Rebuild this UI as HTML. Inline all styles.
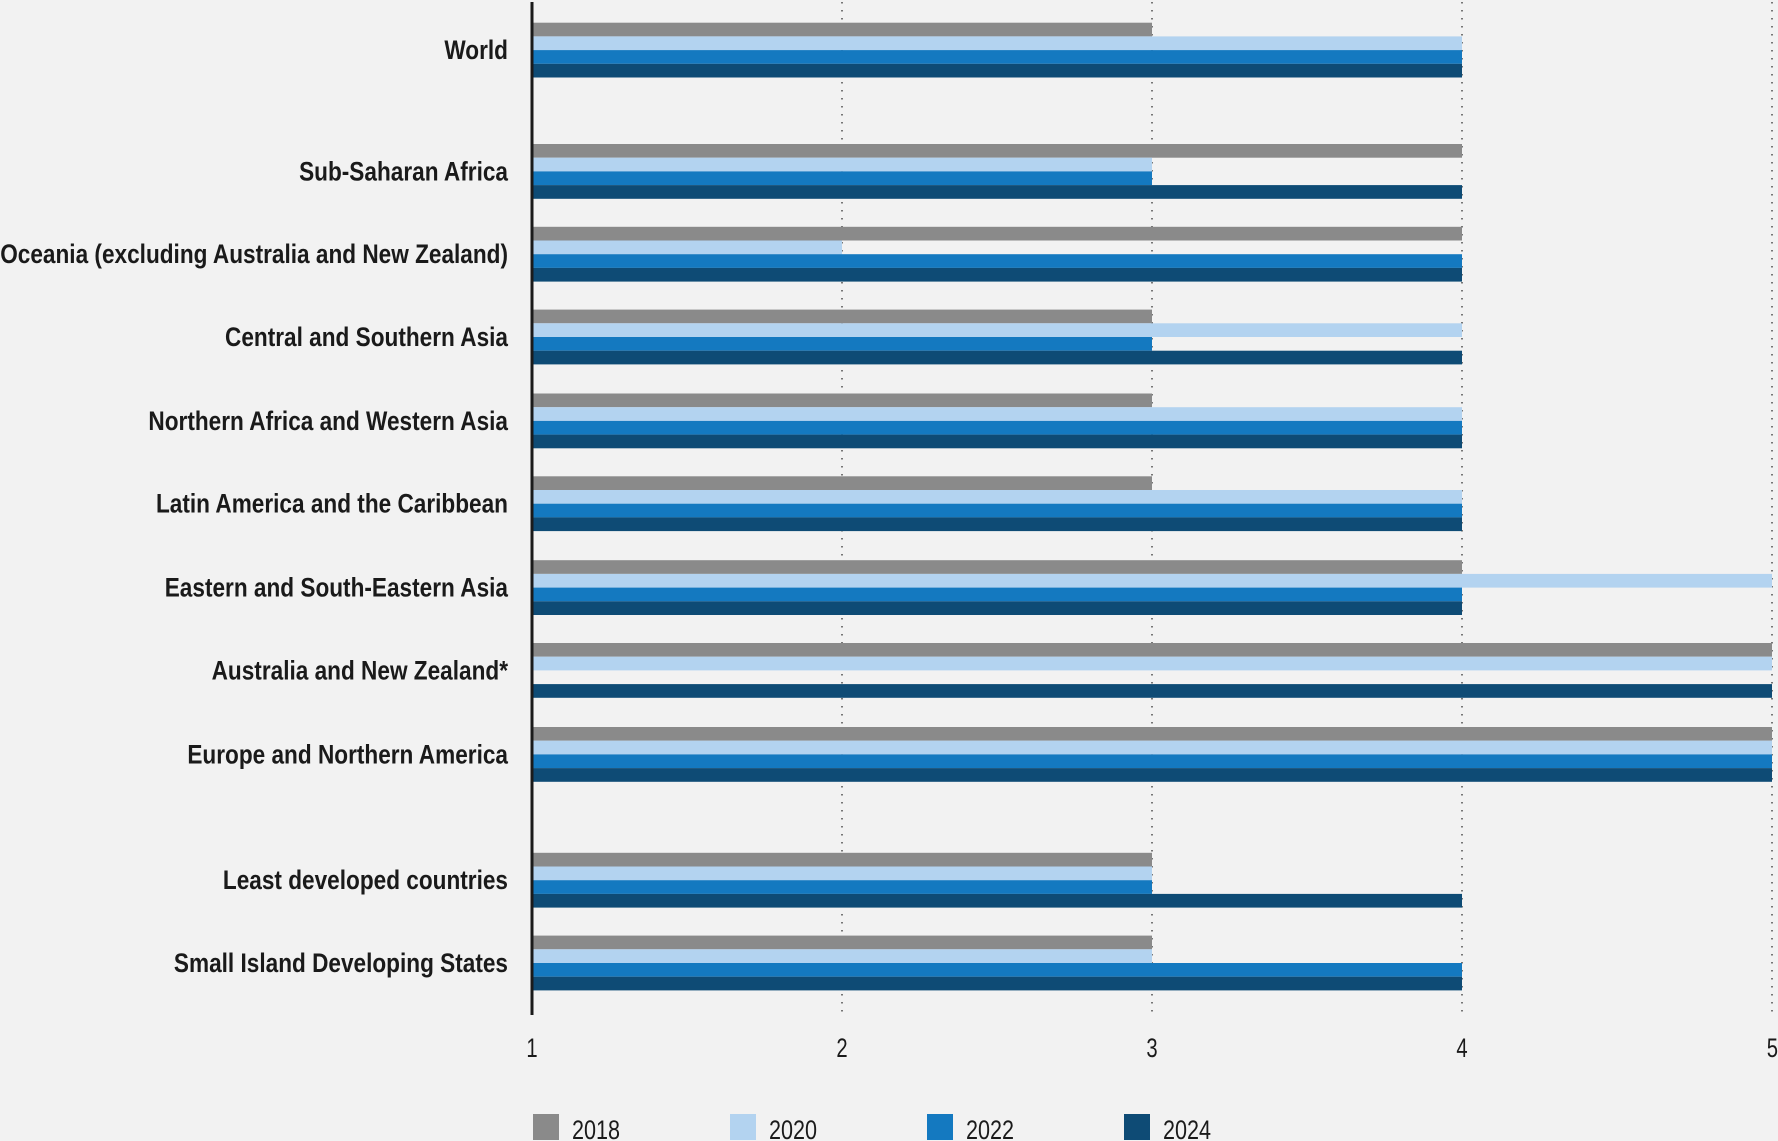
<!DOCTYPE html>
<html><head><meta charset="utf-8">
<style>
html,body{margin:0;padding:0;background:#f2f2f2;}
svg{display:block;}
.lbl{font-family:"Liberation Sans",sans-serif;font-weight:bold;font-size:27px;fill:#1a1a1a;}
.tick{font-family:"Liberation Sans",sans-serif;font-size:27px;fill:#1a1a1a;}
</style></head>
<body>
<svg id="chart" width="1778" height="1141" viewBox="0 0 1778 1141" xmlns="http://www.w3.org/2000/svg">
<rect width="1778" height="1141" fill="#f2f2f2"/>
<g id="grid"></g>
<g id="bars"></g>
<g id="labels"></g>
<g id="ticks"></g>
<line x1="532" y1="2" x2="532" y2="1015" stroke="#1a1a1a" stroke-width="3"/>
<g id="legend"></g>
</svg>
<script>
const categories = ["World","Sub-Saharan Africa","Oceania (excluding Australia and New Zealand)","Central and Southern Asia","Northern Africa and Western Asia","Latin America and the Caribbean","Eastern and South-Eastern Asia","Australia and New Zealand*","Europe and Northern America","Least developed countries","Small Island Developing States"];
const seriesNames = ["2018","2020","2022","2024"];
const s2018 = [3,4,4,3,3,3,4,5,5,3,3];
const s2020 = [4,3,2,4,4,4,5,5,5,3,3];
const s2022 = [4,3,4,3,4,4,4,null,5,3,4];
const s2024 = [4,4,4,4,4,4,4,5,5,4,4];
const tickValues = [1,2,3,4,5];

const series = [s2018,s2020,s2022,s2024];
const colors = ["#8a8a8a","#b3d3f0","#1479c0","#0e4b75"];
const groupTops = [22.7,144,226.8,309.6,393.5,476.3,560.2,643,727,852.8,935.6];
const barH = 13.7;
const NS = "http://www.w3.org/2000/svg";
const xMin = 1, xMax = 5, x0 = 532, x1 = 1772;
function xs(v){ return x0 + (v - xMin) / (xMax - xMin) * (x1 - x0); }

const grid = document.getElementById('grid');
tickValues.forEach(t => {
  if (t === xMin) return;
  const l = document.createElementNS(NS,'line');
  
  
  l.setAttribute('x1', xs(t)); l.setAttribute('x2', xs(t));
  l.setAttribute('y1', 2); l.setAttribute('y2', 1015);
  l.setAttribute('stroke', '#333'); l.setAttribute('stroke-width', '1.3');
  l.setAttribute('stroke-dasharray', '1.5 6.5');
  grid.appendChild(l);
});

const bars = document.getElementById('bars');
categories.forEach((c, i) => {
  series.forEach((s, j) => {
    const v = s[i];
    if (v === null || v === undefined) return;
    const r = document.createElementNS(NS,'rect');
    
    
    r.setAttribute('x', x0);
    r.setAttribute('y', groupTops[i] + j * barH);
    r.setAttribute('width', xs(v) - x0);
    r.setAttribute('height', barH);
    r.setAttribute('fill', colors[j]);
    bars.appendChild(r);
  });
});

const labels = document.getElementById('labels');
const texts = [];
categories.forEach((c, i) => {
  const t = document.createElementNS(NS,'text');
  
  
  t.setAttribute('class', 'lbl');
  t.setAttribute('text-anchor', 'end');
  t.setAttribute('y', groupTops[i] + 2 * barH + 9);
  t.textContent = c;
  labels.appendChild(t);
  texts.push(t);
});
const w = texts[2].getComputedTextLength() || 680;
const sc = 508 / w;
texts.forEach(t => { t.setAttribute('transform', 'translate(508,0) scale(' + sc + ',1)'); t.setAttribute('x', 0); });

const ticks = document.getElementById('ticks');
tickValues.forEach(v => {
  const t = document.createElementNS(NS,'text');
  
  
  t.setAttribute('class', 'tick');
  t.setAttribute('text-anchor', v === xMax ? 'end' : 'middle');
  t.setAttribute('transform', 'translate(' + (v === xMax ? 1778 : xs(v)) + ',1057) scale(0.75,1)');
  t.textContent = v;
  ticks.appendChild(t);
});

const legend = document.getElementById('legend');
const legX = [533, 730, 927, 1124];
seriesNames.forEach((n, j) => {
  const r = document.createElementNS(NS,'rect');
  
  
  r.setAttribute('x', legX[j]); r.setAttribute('y', 1114);
  r.setAttribute('width', 26); r.setAttribute('height', 26);
  r.setAttribute('fill', colors[j]);
  legend.appendChild(r);
  const t = document.createElementNS(NS,'text');
  
  
  t.setAttribute('class', 'tick');
  t.setAttribute('transform', 'translate(' + (legX[j] + 39) + ',1139) scale(0.8,1)');
  t.textContent = n;
  legend.appendChild(t);
});
</script>
</body></html>
